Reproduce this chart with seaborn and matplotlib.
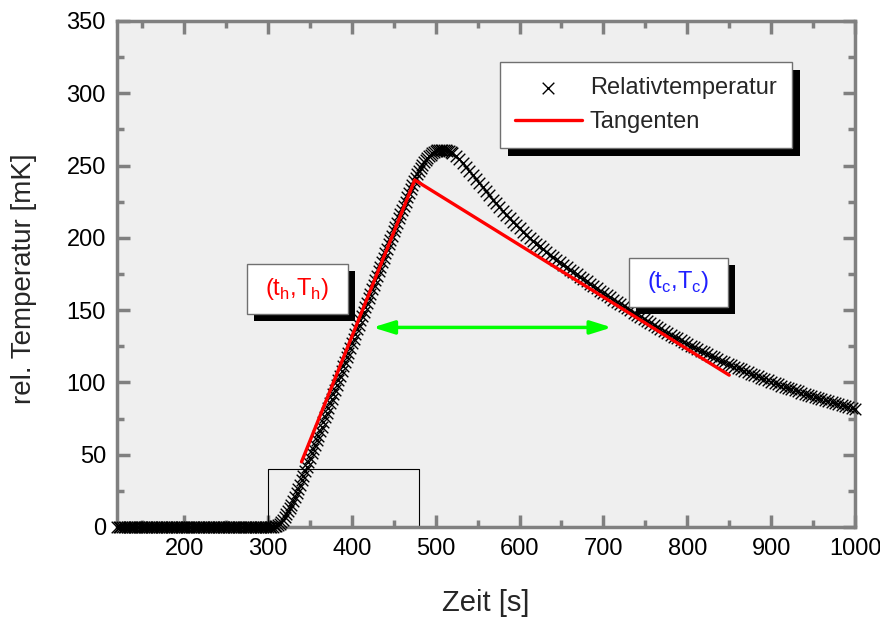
import numpy as np
import pandas as pd
import matplotlib
matplotlib.use('Agg')
import matplotlib.pyplot as plt
import matplotlib.patheffects as pe
from matplotlib.patches import Rectangle
from matplotlib.transforms import offset_copy
from matplotlib.ticker import MultipleLocator
import seaborn as sns

zeit_flach = np.arange(120, 300, 2)
temp_flach = [0.0] * 90

zeit_anstieg = np.arange(300, 521, 2)
temp_anstieg = [
    0.0, 0.0, 0.0, 0.1, 0.3, 0.6, 1.2, 2.2, 3.5, 5.0,
    6.8, 8.7, 10.8, 13.0, 15.4, 17.9, 20.5, 23.3, 26.2, 29.2,
    32.2, 35.3, 38.4, 41.5, 44.6, 47.7, 50.8, 53.9, 57.0, 60.1,
    63.2, 66.3, 69.4, 72.6, 75.8, 79.0, 82.2, 85.4, 88.6, 91.8,
    95.0, 98.2, 101.4, 104.6, 107.8, 111.0, 114.2, 117.4, 120.6, 123.8,
    127.0, 130.2, 133.4, 136.6, 139.7, 142.8, 145.9, 149.0, 152.1, 155.2,
    158.3, 161.4, 164.5, 167.6, 170.7, 173.8, 176.9, 180.0, 183.1, 186.2,
    189.3, 192.4, 195.5, 198.5, 201.5, 204.5, 207.5, 210.5, 213.5, 216.4,
    219.3, 222.2, 225.1, 228.0, 230.8, 233.6, 236.3, 239.0, 241.6, 244.1,
    246.4, 248.5, 250.4, 252.1, 253.7, 255.1, 256.4, 257.5, 258.5, 259.3,
    259.9, 260.4, 260.7, 260.9, 261.0, 260.9, 260.7, 260.3, 259.8, 259.2,
    258.5,
]

zeit_abkl = np.arange(524, 1001, 4)
temp_abkl = [
    256.5, 254.2, 251.7, 249.1, 246.4, 243.6, 240.8, 237.9, 235.0, 232.1,
    229.3, 226.5, 223.8, 221.2, 218.6, 216.1, 213.6, 211.2, 208.8, 206.5,
    204.3, 202.1, 200.0, 198.0, 196.0, 194.0, 192.1, 190.2, 188.4, 186.6,
    184.8, 183.1, 181.4, 179.7, 178.0, 176.3, 174.7, 173.1, 171.5, 169.9,
    168.3, 166.7, 165.1, 163.5, 161.9, 160.3, 158.8, 157.3, 155.8, 154.3,
    152.8, 151.3, 149.8, 148.3, 146.8, 145.4, 143.9, 142.5, 141.0, 139.6,
    138.3, 136.9, 135.6, 134.2, 132.9, 131.6, 130.4, 129.1, 127.9, 126.6,
    125.4, 124.2, 123.1, 121.9, 120.7, 119.6, 118.5, 117.4, 116.2, 115.1,
    114.1, 113.0, 112.0, 110.9, 109.9, 108.9, 107.9, 107.0, 106.0, 105.0,
    104.1, 103.2, 102.2, 101.3, 100.4, 99.5, 98.7, 97.8, 97.0, 96.1,
    95.3, 94.5, 93.7, 92.9, 92.1, 91.4, 90.6, 89.9, 89.1, 88.4,
    87.7, 87.0, 86.3, 85.6, 84.9, 84.2, 83.6, 82.9, 82.3, 81.6,
]

# TANGENTEN
tang_zeit = [340, 475, 850]
tang_temp = [45, 240, 105]

# HEIZPULS
puls_zeit = [120, 300, 300, 480, 480, 1000]
puls_temp = [0, 0, 40, 40, 0, 0]

# PFEIL
pfeil_zeit = [425, 710]
pfeil_temp = 138

xticks = [200, 300, 400, 500, 600, 700, 800, 900, 1000]
yticks = [0, 50, 100, 150, 200, 250, 300, 350]

df = pd.DataFrame({
    'zeit': np.concatenate([zeit_flach, zeit_anstieg, zeit_abkl]),
    'temp': temp_flach + temp_anstieg + temp_abkl,
})

sns.set_style('ticks')
plt.rcParams['font.family'] = ['Liberation Sans', 'DejaVu Sans']
plt.rcParams['mathtext.fontset'] = 'custom'
plt.rcParams['mathtext.rm'] = 'Liberation Sans'

GRAU = '#808080'

fig = plt.figure(figsize=(8.8, 6.17), dpi=100)
ax = fig.add_axes([0.133, 0.146, 0.8386, 0.820])
ax.set_facecolor('#efefef')

sns.lineplot(x=puls_zeit, y=puls_temp, sort=False, estimator=None,
             color='black', lw=0.8, ax=ax, zorder=2)
sns.scatterplot(data=df, x='zeit', y='temp', marker='x', color='black',
                s=70, linewidth=1.0, ax=ax, label='Relativtemperatur',
                zorder=3, clip_on=False)
sns.lineplot(x=tang_zeit, y=tang_temp, sort=False, estimator=None,
             color='red', lw=2.4, ax=ax, label='Tangenten', zorder=4)

# DOPPELPFEIL
ax.annotate('', xy=(pfeil_zeit[1], pfeil_temp), xytext=(pfeil_zeit[0], pfeil_temp),
            arrowprops=dict(arrowstyle='<|-|>,head_length=0.8,head_width=0.25',
                            color='#00ff00', lw=2.5, mutation_scale=16,
                            shrinkA=0, shrinkB=0), zorder=4)

# KAESTEN MIT SCHATTEN
def kasten(x0, y0, w, h, text, farbe):
    schatten = offset_copy(ax.transAxes, fig=fig, x=7, y=-7, units='dots')
    ax.add_patch(Rectangle((x0, y0), w, h, transform=schatten,
                           facecolor='black', edgecolor='none', zorder=5))
    ax.add_patch(Rectangle((x0, y0), w, h, transform=ax.transAxes,
                           facecolor='white', edgecolor='#707070', lw=1, zorder=6))
    ax.text(x0 + w / 2, y0 + h / 2, text, transform=ax.transAxes,
            ha='center', va='center', color=farbe, fontsize=17, zorder=7)

kasten(0.176, 0.421, 0.137, 0.099, r'(t$_{\mathregular{h}}$,T$_{\mathregular{h}}$)', '#ff0000')
kasten(0.694, 0.435, 0.134, 0.097, r'(t$_{\mathregular{c}}$,T$_{\mathregular{c}}$)', '#2020ff')

# LEGENDE
handles, labels = ax.get_legend_handles_labels()
leg = ax.legend(handles, labels, loc='upper left', bbox_to_anchor=(0.519, 0.919),
                fontsize=17, handlelength=2.8, handletextpad=0.35, borderpad=0.65,
                labelspacing=0.5, fancybox=False, framealpha=1,
                edgecolor='#707070', borderaxespad=0)
leg.set_zorder(8)
leg.get_frame().set_linewidth(1)
leg.get_frame().set_path_effects([
    pe.SimplePatchShadow(offset=(5.5, -5.5), shadow_rgbFace='black', alpha=1),
    pe.Normal()])

# ACHSEN
ax.set_xlim(120, 1000)
ax.set_ylim(0, 350)
ax.set_xticks(xticks)
ax.set_yticks(yticks)
ax.xaxis.set_minor_locator(MultipleLocator(50))
ax.yaxis.set_minor_locator(MultipleLocator(25))
ax.tick_params(which='both', direction='in', top=True, right=True,
               color=GRAU, width=2.5, labelsize=17, labelcolor='black')
ax.tick_params(which='major', length=9, pad=8)
ax.tick_params(which='minor', length=5)
for s in ax.spines.values():
    s.set_color(GRAU)
    s.set_linewidth(2.5)

ax.set_xlabel('Zeit [s]', fontsize=21)
ax.set_ylabel('rel. Temperatur [mK]', fontsize=20)
ax.xaxis.set_label_coords(0.5, -0.122)
ax.yaxis.set_label_coords(-0.108, 0.49)

fig.savefig('out.png', dpi=100)
